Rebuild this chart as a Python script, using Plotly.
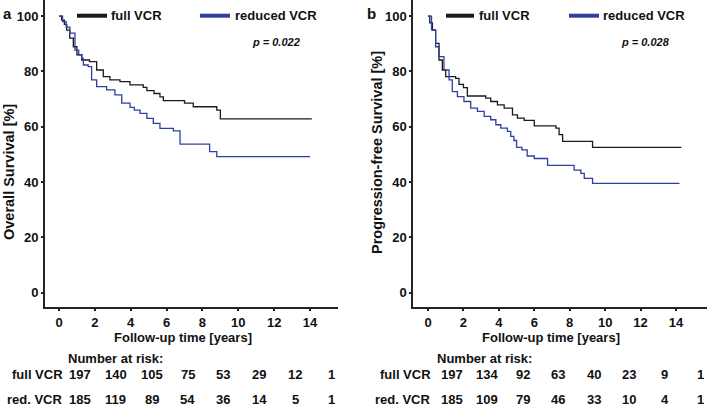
import plotly.graph_objects as go

# ---------------- data ----------------
os_full_t = [0, 0.15, 0.3, 0.43, 0.6, 0.8, 1.0, 1.27, 1.7, 2.1, 2.47, 2.84, 3.4, 3.96, 4.7, 4.9, 5.3, 5.63, 5.82, 7.0, 7.49, 8.8, 9.0, 14.1]
os_full_s = [100, 98.5, 97, 94.9, 92, 88.9, 86, 84.1, 83.5, 80.5, 78.1, 76.9, 76.3, 75.1, 74.2, 73, 72, 70.8, 69.4, 68.5, 67.2, 66, 62.8, 62.8]
os_red_t = [0, 0.2, 0.4, 0.61, 0.89, 1.1, 1.27, 1.36, 1.63, 1.82, 2.1, 2.66, 3.12, 3.5, 3.96, 4.2, 4.52, 4.9, 5.26, 5.63, 6.38, 6.75, 8.05, 8.4, 8.8, 14.0]
os_red_s = [100, 98, 96, 93.8, 87.7, 86, 84.7, 82.3, 81.7, 76.9, 74.5, 73.3, 71.5, 68.5, 67, 66, 64.8, 63.0, 61.2, 59.4, 58.5, 53.7, 53.7, 51.0, 49.2, 49.2]

pfs_full_t = [0, 0.1, 0.25, 0.43, 0.62, 0.81, 1.0, 1.56, 1.75, 2.0, 2.22, 3.26, 3.54, 3.92, 4.3, 4.77, 5.05, 5.43, 6.0, 6.84, 7.22, 7.4, 7.6, 9.29, 14.3]
pfs_full_s = [100, 97.5, 94.9, 90.1, 84.1, 80.5, 78.1, 77.5, 75.3, 74.1, 71.1, 70.3, 69.1, 67.9, 66.7, 64.3, 63.1, 62.3, 60.3, 60.3, 59.5, 57.1, 54.7, 52.5, 52.5]
pfs_red_t = [0, 0.2, 0.43, 0.62, 0.9, 1.19, 1.37, 1.66, 2.03, 2.41, 2.79, 3.17, 3.54, 3.83, 4.11, 4.48, 4.67, 4.85, 5.0, 5.3, 5.6, 6.0, 6.66, 6.75, 8.07, 8.25, 8.63, 8.82, 9.29, 14.2]
pfs_red_s = [100, 95, 88.9, 85.3, 80.5, 76.9, 72.7, 70.9, 69.1, 66.7, 65.5, 63.7, 62.5, 60.7, 59.5, 58.3, 56.5, 55, 52.5, 51.6, 49.4, 48.5, 48.5, 46.0, 46.0, 44.3, 43.1, 41.3, 39.5, 39.5]

risk_times = [0, 2, 4, 6, 8, 10, 12, 14]
os_risk_full = [197, 140, 105, 75, 53, 29, 12, 1]
os_risk_red = [185, 119, 89, 54, 36, 14, 5, 1]
pfs_risk_full = [197, 134, 92, 63, 40, 23, 9, 1]
pfs_risk_red = [185, 109, 79, 46, 33, 10, 4, 1]

series_names = ["full VCR", "reduced VCR"]
row_labels = ["full VCR", "red. VCR"]
p_values = ["p = 0.022", "p = 0.028"]
y_titles = ["Overall Survival [%]", "Progression-free Survival [%]"]
panel_letters = ["a", "b"]
x_title = "Follow-up time [years]"

# ---------------- style ----------------
W, H = 708, 406
FONT = "Liberation Sans, Arial, sans-serif"
BLACK = "#1a1a1a"
BLUE = "#2e3fa3"
AX = "#222222"

fig = go.Figure()

def add_curve(t, s, color, xa, ya):
    fig.add_trace(go.Scatter(x=t, y=s, mode="lines", line=dict(color=color, width=1.3, shape="hv"),
                             xaxis=xa, yaxis=ya, showlegend=False, hoverinfo="skip"))

add_curve(os_full_t, os_full_s, BLACK, "x", "y")
add_curve(os_red_t, os_red_s, BLUE, "x", "y")
add_curve(pfs_full_t, pfs_full_s, BLACK, "x2", "y2")
add_curve(pfs_red_t, pfs_red_s, BLUE, "x2", "y2")

def px_x(p):
    return p / W

def px_y(p):
    return 1 - p / H

axis_common = dict(showgrid=False, zeroline=False, showline=True, linecolor=AX, linewidth=2,
                   ticks="outside", ticklen=2, tickwidth=1.5, tickcolor=AX,
                   tickfont=dict(family=FONT, size=13, color="#111", weight="bold"), fixedrange=True)

fig.update_layout(
    width=W, height=H, margin=dict(l=0, r=0, t=0, b=0),
    paper_bgcolor="white", plot_bgcolor="white",
    xaxis=dict(domain=[px_x(45), px_x(338)], range=[-0.78, 15.56], anchor="y",
               tickvals=risk_times, **axis_common),
    yaxis=dict(domain=[px_y(307.3), 1.0], range=[-5.3, 105.8], anchor="x",
               tickvals=[0, 20, 40, 60, 80, 100], **axis_common),
    xaxis2=dict(domain=[px_x(413.3), px_x(707)], range=[-0.83, 15.75], anchor="y2",
                tickvals=risk_times, **axis_common),
    yaxis2=dict(domain=[px_y(307.3), 1.0], range=[-5.3, 105.8], anchor="x2",
                tickvals=[0, 20, 40, 60, 80, 100], **axis_common),
    showlegend=False,
)

ann = []
shapes = []

def text(x, y, s, size=13, xanchor="center", xref="paper", yref="paper", angle=0, italic=False, xshift=0):
    ann.append(dict(x=x, y=y, xref=xref, yref=yref, text=("<i>%s</i>" % s if italic else s),
                    showarrow=False, xanchor=xanchor, yanchor="middle", textangle=angle, xshift=xshift,
                    font=dict(family=FONT, size=size, color="#111", weight="bold")))

panels = [
    dict(xref="x", legL=(77, 107, 109), legR=(200, 230, 233), p=(276, 42), letter=(7, 14),
         ytitle=(9, 172), xtitle=183, rowlab=65, nar=116, risk=(os_risk_full, os_risk_red), shift=21),
    dict(xref="x2", legL=(446, 474, 477), legR=(569, 599, 601), p=(645, 42), letter=(371, 14),
         ytitle=(377, 152), xtitle=551, rowlab=433, nar=484, risk=(pfs_risk_full, pfs_risk_red), shift=24),
]

for i, pn in enumerate(panels):
    for (x0, x1, xt), col, name in zip([pn["legL"], pn["legR"]], [BLACK, BLUE], series_names):
        shapes.append(dict(type="line", xref="paper", yref="paper", x0=px_x(x0), x1=px_x(x1),
                           y0=px_y(15.7), y1=px_y(15.7), line=dict(color=col, width=4)))
        text(px_x(xt), px_y(15.5), name, size=13, xanchor="left")
    text(px_x(pn["p"][0]), px_y(pn["p"][1]), p_values[i], size=11, italic=True)
    text(px_x(pn["letter"][0]), px_y(pn["letter"][1]), panel_letters[i], size=15)
    text(px_x(pn["ytitle"][0]), px_y(pn["ytitle"][1]), y_titles[i], size=14.5, angle=-90)
    text(px_x(pn["xtitle"]), px_y(337), x_title, size=13)
    text(px_x(pn["nar"]), px_y(358), "Number at risk:", size=13)
    for row, (lab, yy) in enumerate(zip(row_labels, [374, 399])):
        text(px_x(pn["rowlab"]), px_y(yy), lab, size=13, xanchor="right")
        for t, n in zip(risk_times, pn["risk"][row]):
            text(t, px_y(yy), str(n), size=13, xref=pn["xref"], xshift=pn["shift"])

fig.update_layout(annotations=ann, shapes=shapes)
fig.write_html("out.html", config={"displayModeBar": False},
               post_script="document.body.style.margin='0';document.body.style.overflow='hidden';")
